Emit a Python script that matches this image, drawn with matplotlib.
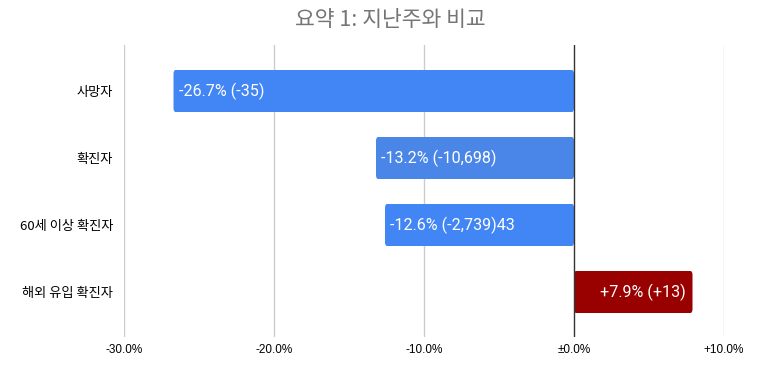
import matplotlib.pyplot as plt
from matplotlib.patches import FancyBboxPatch

categories = ['사망자', '확진자', '60세 이상 확진자', '해외 유입 확진자']
values = [-26.7, -13.2, -12.6, 7.9]
labels = ['-26.7% (-35)', '-13.2% (-10,698)', '-12.6% (-2,739)43', '+7.9% (+13)']
colors = ['#4285f4', '#4a86e8', '#4285f4', '#990000']
ticks = [-30, -20, -10, 0, 10]
tick_labels = ['-30.0%', '-20.0%', '-10.0%', '±0.0%', '+10.0%']

plt.rcParams['font.family'] = ['Noto Sans CJK KR', 'DejaVu Sans']

fig = plt.figure(figsize=(7.79, 3.69), dpi=100)
ax = fig.add_axes([124 / 779, 32 / 369, 600 / 779, 292 / 369])

h = 42 / 67
for i, (v, c) in enumerate(zip(values, colors)):
    x0 = min(v, 0)
    p = FancyBboxPatch((x0, i - h / 2), abs(v), h,
                       boxstyle='round,pad=0,rounding_size=0.15',
                       mutation_aspect=0.4,
                       fc=c, ec='none', zorder=3)
    ax.add_patch(p)
    if v < 0:
        ax.text(v + 0.35, i, labels[i], ha='left', va='center', color='white',
                fontsize=11.6, family='Roboto', zorder=4)
    else:
        ax.text(v - 0.45, i, labels[i], ha='right', va='center', color='white',
                fontsize=11.6, family='Roboto', zorder=4)

ax.set_xlim(-30, 10)
ax.set_ylim(3 + 45 / 67, -46 / 67)
ax.set_xticks(ticks)
ax.set_xticklabels(tick_labels, family='Liberation Sans', fontsize=8.5)
ax.set_yticks(range(len(categories)))
ax.set_yticklabels(categories, fontsize=9.5)
ax.tick_params(axis='x', length=0, pad=5)
ax.tick_params(axis='y', length=0, pad=8)
for t in ticks:
    if t == 0:
        ax.axvline(t, color='#333333', lw=1, zorder=5)
    else:
        ax.axvline(t, color='#cccccc', lw=1, zorder=1)
for s in ax.spines.values():
    s.set_visible(False)

fig.text(390 / 779, 1 - 20 / 369, '요약 1: 지난주와 비교', ha='center', va='center',
         fontsize=15.5, color='#757575')

fig.savefig('out.png', dpi=100)
